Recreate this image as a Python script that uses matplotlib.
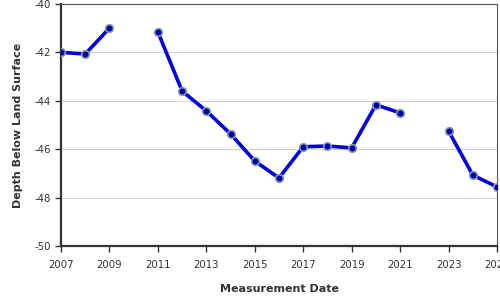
import numpy as np
import matplotlib
matplotlib.use('Agg')
import matplotlib.pyplot as plt

# measurement years and depth below land surface (ft); NaN = no reading
years = [2007, 2008, 2009, 2010, 2011, 2012, 2013, 2014, 2015, 2016,
         2017, 2018, 2019, 2020, 2021, 2022, 2023, 2024, 2025]
depth = [-42.0, -42.07, -41.0, np.nan, -41.16, -43.6, -44.42, -45.37, -46.49, -47.19,
         -45.9, -45.87, -45.95, -44.17, -44.5, np.nan, -45.25, -47.07, -47.56]

x_ticks = [2007, 2009, 2011, 2013, 2015, 2017, 2019, 2021, 2023, 2025]
y_ticks = [-50, -48, -46, -44, -42, -40]

plt.rcParams['axes.unicode_minus'] = False
plt.rcParams['font.family'] = 'DejaVu Sans'

fig = plt.figure(figsize=(5, 3), dpi=100)
ax = fig.add_axes([0.122, 0.18, 0.872, 0.807])

ax.plot(years, depth, color='#0000dd', linewidth=2.6, zorder=3,
        marker='o', markersize=5.5, markerfacecolor='#0000aa',
        markeredgecolor='#8899aa', markeredgewidth=1.2)

ax.set_xlim(2007, 2025)
ax.set_ylim(-50, -40)
ax.set_xticks(x_ticks)
ax.set_yticks(y_ticks)
ax.grid(axis='y', color='#d4d4d4', linewidth=0.8)
ax.set_axisbelow(True)

ax.tick_params(axis='both', labelsize=7.3, colors='#333333', length=4, width=1)
ax.tick_params(axis='x', pad=6)
for side in ['left', 'bottom']:
    ax.spines[side].set_linewidth(1.6)
    ax.spines[side].set_color('#333333')
for side in ['top', 'right']:
    ax.spines[side].set_linewidth(0.8)
    ax.spines[side].set_color('#555555')

ax.set_xlabel('Measurement Date', fontsize=8, fontweight='bold', color='#333333', labelpad=10)
ax.set_ylabel('Depth Below Land Surface', fontsize=8, fontweight='bold', color='#333333', labelpad=8)

fig.savefig('out.png', dpi=100)
